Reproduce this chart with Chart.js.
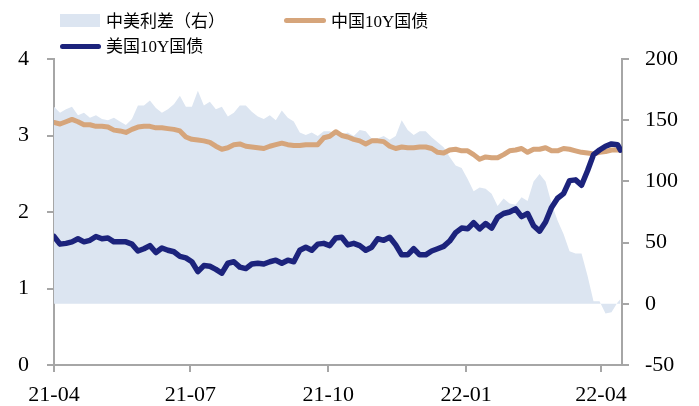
<!DOCTYPE html>
<html>
<head>
<meta charset="utf-8">
<script src="https://cdn.jsdelivr.net/npm/chart.js@4.4.0/dist/chart.umd.min.js"></script>
<style>
  html, body { margin: 0; padding: 0; background: #fff; }
  #wrap { position: relative; width: 699px; height: 406px; }
  .lg-text {
    position: absolute; height: 20px; line-height: 20px; white-space: nowrap; color: #000;
    font-family: 'Liberation Serif', 'Noto Sans CJK SC', serif; font-size: 17px;
  }
  .lg-sw { position: absolute; }
</style>
</head>
<body>
<div id="wrap">
  <canvas id="bondChart" width="699" height="406"></canvas>
  <div class="lg-sw" style="left:60px;top:14px;width:40px;height:13px;background:#dce5f1"></div>
  <div class="lg-text" style="left:106px;top:12px">中美利差（右）</div>
  <div class="lg-sw" style="left:284px;top:18px;width:42px;height:5px;border-radius:3px;background:#d6a57b"></div>
  <div class="lg-text" style="left:331px;top:12px">中国10Y国债</div>
  <div class="lg-sw" style="left:60px;top:44px;width:41px;height:5px;border-radius:3px;background:#1c237c"></div>
  <div class="lg-text" style="left:106px;top:37px">美国10Y国债</div>
</div>
<script>
// days since 2021-04-01
const days = [0, 4, 8, 12, 16, 20, 24, 28, 32, 36,
  40, 44, 48, 52, 56, 60, 64, 68, 72, 76,
  80, 84, 88, 92, 96, 100, 104, 108, 112, 116,
  120, 124, 128, 132, 136, 140, 144, 148, 152, 156,
  160, 164, 168, 172, 176, 180, 184, 188, 192, 196,
  200, 204, 208, 212, 216, 220, 224, 228, 232, 236,
  240, 244, 248, 252, 256, 260, 264, 268, 272, 276,
  280, 284, 288, 292, 296, 300, 304, 308, 312, 316,
  320, 324, 328, 332, 336, 340, 344, 348, 352, 356,
  360, 364, 368, 372, 376, 378];

// 中国10Y国债 (%)
const cn10y = [3.17, 3.15, 3.18, 3.21, 3.18, 3.14, 3.14, 3.12, 3.12, 3.11,
  3.07, 3.06, 3.04, 3.08, 3.11, 3.12, 3.12, 3.10, 3.10, 3.09,
  3.08, 3.06, 2.98, 2.95, 2.94, 2.93, 2.91, 2.86, 2.82, 2.84,
  2.88, 2.89, 2.86, 2.85, 2.84, 2.83, 2.86, 2.88, 2.90, 2.88,
  2.87, 2.87, 2.88, 2.88, 2.88, 2.97, 2.99, 3.05, 3.00, 2.98,
  2.95, 2.93, 2.89, 2.93, 2.93, 2.92, 2.86, 2.83, 2.85, 2.84,
  2.84, 2.85, 2.85, 2.83, 2.78, 2.77, 2.81, 2.82, 2.80, 2.80,
  2.75, 2.69, 2.72, 2.71, 2.71, 2.75, 2.80, 2.81, 2.83, 2.78,
  2.82, 2.82, 2.84, 2.80, 2.80, 2.83, 2.82, 2.80, 2.78, 2.77,
  2.76, 2.78, 2.79, 2.81, 2.81, 2.81];

// 美国10Y国债 (%)
const us10y = [1.68, 1.58, 1.59, 1.61, 1.65, 1.61, 1.63, 1.68, 1.65, 1.66,
  1.61, 1.61, 1.61, 1.58, 1.49, 1.52, 1.56, 1.47, 1.53, 1.50,
  1.48, 1.42, 1.40, 1.35, 1.22, 1.30, 1.29, 1.25, 1.20, 1.33,
  1.35, 1.28, 1.26, 1.32, 1.33, 1.32, 1.35, 1.37, 1.33, 1.37,
  1.35, 1.50, 1.54, 1.50, 1.58, 1.59, 1.56, 1.66, 1.67, 1.57,
  1.59, 1.56, 1.50, 1.54, 1.65, 1.63, 1.67, 1.57, 1.44, 1.44,
  1.52, 1.44, 1.44, 1.49, 1.52, 1.55, 1.62, 1.73, 1.79, 1.78,
  1.86, 1.78, 1.85, 1.79, 1.93, 1.98, 2.00, 2.04, 1.94, 1.98,
  1.82, 1.75, 1.87, 2.06, 2.18, 2.24, 2.41, 2.42, 2.35, 2.54,
  2.75, 2.81, 2.86, 2.89, 2.88, 2.81];

// 中美利差 (bp, right axis)
const spread = [161, 156, 159, 161, 154, 156, 152, 154, 151, 150,
  152, 149, 146, 151, 162, 162, 166, 160, 156, 159,
  163, 170, 161, 161, 174, 162, 165, 159, 161, 153,
  156, 162, 162, 157, 153, 151, 154, 150, 158, 152,
  149, 140, 138, 140, 137, 141, 141, 139, 138, 140,
  137, 142, 141, 135, 135, 137, 134, 137, 150, 142,
  138, 141, 141, 136, 132, 128, 120, 113, 111, 102,
  92, 95, 94, 90, 80, 86, 82, 81, 87, 84,
  100, 106, 100, 82, 68, 57, 43, 41, 41, 23,
  2, 2, -8, -7, 1, 4];

const xTickDays = [0, 91, 183, 275, 365];
const xTickLabels = ['21-04', '21-07', '21-10', '22-01', '22-04'];

const axisGray = '#a6a6a6';
const tickFont = { family: "'Liberation Serif', 'Times New Roman', serif", size: 22 };

function toPoints(vals) {
  return days.map((d, i) => ({ x: d, y: vals[i] }));
}

const axisGrid = { drawOnChartArea: false, drawTicks: true, tickLength: 7, color: axisGray, lineWidth: 2 };
const axisBorder = { display: true, color: axisGray, width: 2 };

new Chart(document.getElementById('bondChart'), {
  type: 'line',
  data: {
    datasets: [{
      label: '中美利差（右）',
      data: toPoints(spread),
      yAxisID: 'y1',
      fill: 'origin',
      backgroundColor: '#dce5f1',
      borderColor: 'rgba(0,0,0,0)',
      borderWidth: 0,
      pointRadius: 0,
      order: 3,
    }, {
      label: '中国10Y国债',
      data: toPoints(cn10y),
      yAxisID: 'y',
      borderColor: '#d6a57b',
      borderWidth: 5,
      pointRadius: 0,
      borderJoinStyle: 'round',
      borderCapStyle: 'round',
      order: 2,
    }, {
      label: '美国10Y国债',
      data: toPoints(us10y),
      yAxisID: 'y',
      borderColor: '#1c237c',
      borderWidth: 5.5,
      pointRadius: 0,
      borderJoinStyle: 'round',
      borderCapStyle: 'round',
      order: 1,
    }],
  },
  options: {
    responsive: false,
    animation: false,
    layout: { padding: { top: 59, left: 0, right: 0, bottom: 0 } },
    plugins: { legend: { display: false }, tooltip: { enabled: false } },
    scales: {
      x: {
        type: 'linear',
        min: 0,
        max: 379,
        afterBuildTicks: (s) => { s.ticks = xTickDays.map(v => ({ value: v })); },
        afterFit: (s) => { s.height = 41; },
        ticks: {
          callback: (v, i) => xTickLabels[i],
          autoSkip: false,
          maxRotation: 0,
          padding: 10,
          color: '#000',
          font: tickFont,
        },
        grid: axisGrid,
        border: axisBorder,
      },
      y: {
        position: 'left',
        min: 0,
        max: 4,
        afterFit: (s) => { s.width = 54; },
        ticks: { stepSize: 1, padding: 18, color: '#000', font: tickFont },
        grid: axisGrid,
        border: axisBorder,
      },
      y1: {
        position: 'right',
        min: -50,
        max: 200,
        afterFit: (s) => { s.width = 77; },
        ticks: { stepSize: 50, padding: 16, color: '#000', font: tickFont },
        grid: axisGrid,
        border: axisBorder,
      },
    },
  },
});
</script>
</body>
</html>
